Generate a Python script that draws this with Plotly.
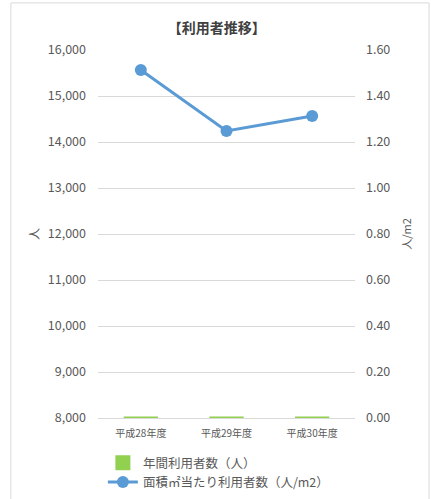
import plotly.graph_objects as go

categories = ["平成28年度", "平成29年度", "平成30年度"]
annual_users = [7600, 6900, 7200]
users_per_m2 = [1.513, 1.248, 1.313]
left_ticks = [8000, 9000, 10000, 11000, 12000, 13000, 14000, 15000, 16000]
right_ticks = [0.0, 0.2, 0.4, 0.6, 0.8, 1.0, 1.2, 1.4, 1.6]
Y_MIN, Y_MAX = 8000, 16000

FONT = "Noto Sans CJK JP"
GRAY = "#595959"
GRID = "#D9D9D9"

# Excel draws bars whose value lies below the axis minimum as a flat bar at the minimum
bar_heights = [max(v - Y_MIN, 0) for v in annual_users]

fig = go.Figure()
fig.add_trace(go.Bar(
    x=categories, y=bar_heights, base=[Y_MIN] * len(categories),
    customdata=annual_users, hovertemplate="%{x}: %{customdata:,}<extra></extra>",
    name="年間利用者数（人）",
    marker=dict(color="#92D050", line=dict(color="#92D050", width=3)),
    width=0.4, yaxis="y",
))
fig.add_trace(go.Scatter(
    x=categories, y=users_per_m2, name="面積㎡当たり利用者数（人/m2）",
    mode="lines+markers", line=dict(color="#5B9BD5", width=3),
    marker=dict(size=12, color="#5B9BD5"), yaxis="y2",
))

fig.update_layout(
    width=431, height=499,
    margin=dict(l=98, r=76, t=50, b=81, autoexpand=False),
    paper_bgcolor="white", plot_bgcolor="white",
    font=dict(family=FONT, color=GRAY, size=12.5),
    title=dict(text="<b>【利用者推移】</b>", x=0.503, xanchor="center", y=0.944, yanchor="middle",
               font=dict(size=14, color="#404040", family=FONT)),
    showlegend=True,
    legend=dict(orientation="v", x=0.019, xanchor="left", y=-0.082, yanchor="top",
                font=dict(size=12.5, color=GRAY, family=FONT), tracegroupgap=0,
                bgcolor="rgba(0,0,0,0)"),
    xaxis=dict(showgrid=False, showline=True, linecolor=GRID, linewidth=1, automargin=False,
               tickfont=dict(size=10, color=GRAY), ticks="", ticklabelstandoff=6),
    yaxis=dict(range=[Y_MIN, Y_MAX], tickvals=left_ticks, tickformat=",", automargin=False,
               gridcolor=GRID, gridwidth=1, showline=False, zeroline=False,
               ticks="", ticklabelstandoff=11,
               title=dict(text="人", standoff=5, font=dict(size=12, color=GRAY))),
    yaxis2=dict(range=[0, 1.6], tickvals=right_ticks, tickformat=".2f", automargin=False,
                overlaying="y", side="right", showgrid=False, zeroline=False,
                ticks="", ticklabelstandoff=10,
                title=dict(text="人/m2", standoff=13, font=dict(size=11, color=GRAY))),
    shapes=[dict(type="rect", xref="paper", yref="paper",
                 x0=-0.339, x1=1.288, y0=-0.24, y1=1.128,
                 line=dict(color="#D9D9D9", width=1), layer="below")],
)

fig.write_html("out.html", config={"displayModeBar": False},
               post_script="document.body.style.margin='0';")
